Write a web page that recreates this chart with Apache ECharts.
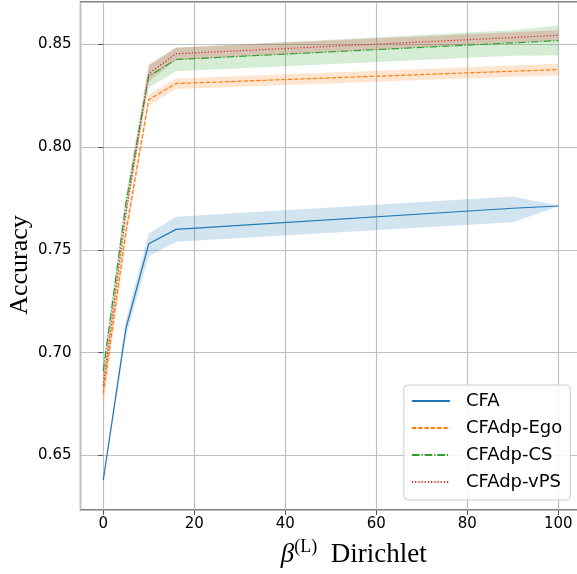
<!DOCTYPE html>
<html>
<head>
<meta charset="utf-8">
<script src="https://cdn.jsdelivr.net/npm/echarts@6/dist/echarts.min.js"></script>
<style>html,body{margin:0;padding:0;background:#fff}#c{width:577px;height:574px}</style>
</head>
<body>
<div id="c"></div>
<script>
const xs = [0, 5, 10, 16, 90, 100];
const seriesNames = ['CFA', 'CFAdp-Ego', 'CFAdp-CS', 'CFAdp-vPS'];
const cfa   = [0.638, 0.712, 0.753, 0.760, 0.7703, 0.7714];
const cfaLo = [0.6365, 0.708, 0.747, 0.754, 0.7635, 0.7712];
const cfaHi = [0.6395, 0.716, 0.758, 0.7662, 0.776, 0.7716];
const ego   = [0.680, 0.759, 0.8232, 0.831, 0.837, 0.8378];
const egoLo = [0.673, 0.755, 0.8203, 0.8284, 0.8343, 0.8349];
const egoHi = [0.687, 0.763, 0.8257, 0.8334, 0.8398, 0.8406];
const cs    = [0.691, 0.773, 0.8346, 0.8427, 0.8508, 0.8519];
const csLo  = [0.687, 0.769, 0.829, 0.837, 0.8445, 0.8448];
const csHi  = [0.695, 0.777, 0.840, 0.8484, 0.857, 0.8593];
const vps   = [0.684, 0.768, 0.8359, 0.8455, 0.8534, 0.8545];
const vpsLo = [0.680, 0.765, 0.832, 0.8425, 0.851, 0.852];
const vpsHi = [0.688, 0.771, 0.840, 0.8485, 0.856, 0.857];

const colors = ['#1f77b4', '#ff7f0e', '#2ca02c', '#d62728'];
const fills = ['rgba(31,119,180,0.2)', 'rgba(255,127,14,0.2)', 'rgba(44,160,44,0.2)', 'rgba(214,39,40,0.2)'];
const dashes = ['solid', [4.4, 1.9], [7.7, 1.9, 1.2, 1.9], [1.2, 2]];
const mids = [cfa, ego, cs, vps];
const los = [cfaLo, egoLo, csLo, vpsLo];
const his = [cfaHi, egoHi, csHi, vpsHi];

function band(i) {
  const lo = los[i], hi = his[i];
  return {
    type: 'custom',
    name: 'band' + i,
    z: 1,
    silent: true,
    data: xs.map((x, k) => [x, lo[k], hi[k]]),
    encode: { x: 0, y: [1, 2] },
    renderItem: function (params, api) {
      if (params.dataIndex !== 0) return;
      const pts = [];
      for (let k = 0; k < xs.length; k++) pts.push(api.coord([xs[k], hi[k]]));
      for (let k = xs.length - 1; k >= 0; k--) pts.push(api.coord([xs[k], lo[k]]));
      return { type: 'polygon', shape: { points: pts }, style: { fill: fills[i] } };
    }
  };
}
function line(i) {
  return {
    type: 'line',
    name: seriesNames[i],
    z: 3,
    symbol: 'none',
    data: xs.map((x, k) => [x, mids[i][k]]),
    lineStyle: { color: colors[i], width: 1.2, type: dashes[i] },
    itemStyle: { color: colors[i] }
  };
}

const chart = echarts.init(document.getElementById('c'), null, { renderer: 'canvas' });
chart.setOption({
  animation: false,
  backgroundColor: '#fff',
  grid: { left: 80.5, right: -4, top: 2, bottom: 64, outerBoundsMode: 'none', containLabel: false, show: true, borderColor: '#555', borderWidth: 1.3, backgroundColor: 'transparent' },
  xAxis: {
    type: 'value', min: -5, max: 105, splitNumber: 5,
    axisLine: { show: false },
    axisTick: { show: true, length: 5, lineStyle: { color: '#555', width: 1 } },
    axisLabel: { showMinLabel: false, showMaxLabel: false, fontFamily: 'DejaVu Sans', fontSize: 15, color: '#000', margin: 7 },
    splitLine: { show: true, lineStyle: { color: '#c0c0c0', width: 1.2 } },
    name: '{b|β}{s|(L)}{t|  Dirichlet}',
    nameLocation: 'middle',
    nameGap: 28,
    nameTextStyle: {
      padding: [0, 0, 0, 46],
      rich: {
        b: { fontFamily: 'Liberation Serif', fontStyle: 'italic', fontSize: 27, color: '#000', verticalAlign: 'bottom', lineHeight: 30 },
        s: { fontFamily: 'Liberation Serif', fontSize: 18, color: '#000', verticalAlign: 'top', lineHeight: 30 },
        t: { fontFamily: 'Liberation Serif', fontSize: 27, color: '#000', verticalAlign: 'bottom', lineHeight: 30 }
      }
    }
  },
  yAxis: {
    type: 'value', min: 0.6234, max: 0.8707, splitNumber: 5,
    axisLine: { show: false },
    axisTick: { show: true, length: 5, lineStyle: { color: '#555', width: 1 } },
    axisLabel: { showMinLabel: false, showMaxLabel: false, fontFamily: 'DejaVu Sans', fontSize: 15, color: '#000', margin: 9, formatter: v => v.toFixed(2) },
    splitLine: { show: true, lineStyle: { color: '#c0c0c0', width: 1.2 } },
    name: 'Accuracy',
    nameLocation: 'middle',
    nameGap: 47,
    nameMoveOverlap: false,
    nameRotate: 90,
    nameTextStyle: { fontFamily: 'Liberation Serif', fontSize: 26, color: '#000', padding: [0, 18, 0, 0] }
  },
  legend: {
    data: seriesNames,
    orient: 'vertical',
    right: 6.7,
    bottom: 74,
    itemWidth: 38,
    itemHeight: 14,
    itemGap: 7,
    padding: [6, 8, 8, 7],
    backgroundColor: 'rgba(255,255,255,0.85)',
    borderColor: '#ccc',
    borderWidth: 1,
    borderRadius: 4,
    itemStyle: { opacity: 0 },
    textStyle: { fontFamily: 'DejaVu Sans', fontSize: 18, color: '#000', lineHeight: 20, padding: [0, 0, 0, 11] }
  },
  series: [band(0), band(1), band(2), band(3), line(0), line(1), line(2), line(3)]
});
</script>
</body>
</html>
